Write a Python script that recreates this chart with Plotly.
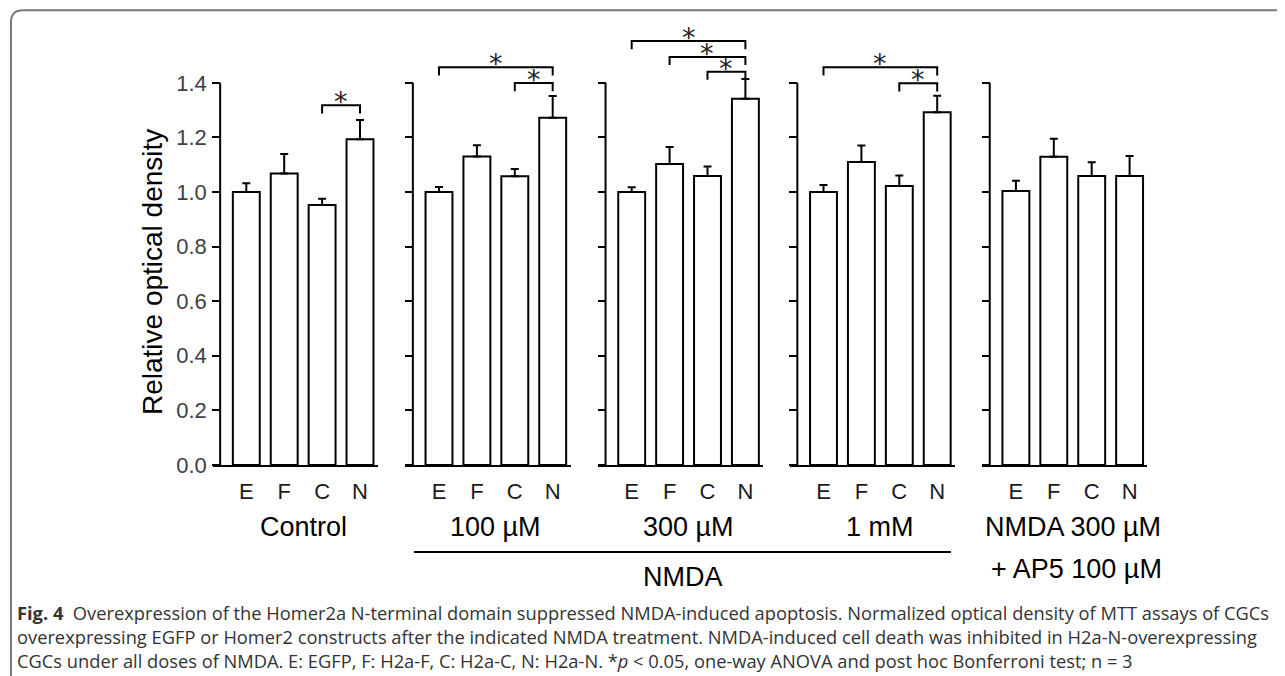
import plotly.graph_objects as go

# The page is photographed at 1285x676, but it is squeezed vertically by ~0.981
# (content area ~1285x689). The body also adds an 8px margin.
PAGE_W = 1285
SY = 676 / 689
OFF = 8
W, H = PAGE_W - 2 * OFF, 689 - 2 * OFF

# ---------------- data ----------------
categories = ["E", "F", "C", "N"]
group_labels = ["Control", "100 µM", "300 µM", "1 mM", "NMDA 300 µM<br>+ AP5 100 µM"]

control_mean = [1.000, 1.068, 0.952, 1.193]
control_err = [0.032, 0.071, 0.023, 0.071]
nmda100_mean = [1.000, 1.130, 1.058, 1.272]
nmda100_err = [0.018, 0.041, 0.026, 0.080]
nmda300_mean = [1.000, 1.103, 1.059, 1.342]
nmda300_err = [0.017, 0.062, 0.034, 0.072]
nmda1m_mean = [1.000, 1.110, 1.022, 1.292]
nmda1m_err = [0.026, 0.060, 0.038, 0.061]
ap5_mean = [1.004, 1.129, 1.059, 1.059]
ap5_err = [0.037, 0.066, 0.050, 0.073]

# significance brackets: (from index, to index, bracket height)
control_sig = [(2, 3, 1.318)]
nmda100_sig = [(0, 3, 1.457), (2, 3, 1.399)]
nmda300_sig = [(0, 3, 1.553), (1, 3, 1.495), (2, 3, 1.441)]
nmda1m_sig = [(0, 3, 1.457), (2, 3, 1.398)]
ap5_sig = []

y_ticks = [0.0, 0.2, 0.4, 0.6, 0.8, 1.0, 1.2, 1.4]

caption_bold = "Fig. 4"
caption_lines = [
    "Overexpression of the Homer2a N-terminal domain suppressed NMDA-induced apoptosis. Normalized optical density of MTT assays of CGCs",
    "overexpressing EGFP or Homer2 constructs after the indicated NMDA treatment. NMDA-induced cell death was inhibited in H2a-N-overexpressing",
    "CGCs under all doses of NMDA. E: EGFP, F: H2a-F, C: H2a-C, N: H2a-N. *<i>p</i> &lt; 0.05, one-way ANOVA and post hoc Bonferroni test; n = 3",
]

means = [control_mean, nmda100_mean, nmda300_mean, nmda1m_mean, ap5_mean]
errs = [control_err, nmda100_err, nmda300_err, nmda1m_err, ap5_err]
sigs = [control_sig, nmda100_sig, nmda300_sig, nmda1m_sig, ap5_sig]


# ---------------- layout geometry (target picture pixels) ----------------
def fx(x):
    return (x - OFF) / W


def fy(y):
    return 1 - (y / SY - OFF) / H


first_bar_center = [246.3, 439.0, 631.7, 823.5, 1015.9]
step = 37.9
x_lo, x_hi = -0.885, 3.47
yaxis_offset = -0.69
y0_px, y_top_px = 465.0, 82.7
px_per_unit = (y0_px - y_top_px) / 1.4
y_max = 1.62
y_dom_bottom = fy(y0_px)
y_dom_top = fy(y0_px - y_max * px_per_unit)

FONT = "Liberation Sans, Arial, sans-serif"

fig = go.Figure()
layout = dict(
    width=W, height=H,
    margin=dict(l=0, r=0, t=0, b=0),
    paper_bgcolor="white", plot_bgcolor="rgba(0,0,0,0)",
    showlegend=False,
    font=dict(family=FONT, color="black"),
)
shapes = []
annotations = []

for p in range(5):
    xn = "x" if p == 0 else f"x{p+1}"
    yn = "y" if p == 0 else f"y{p+1}"
    xk = "xaxis" if p == 0 else f"xaxis{p+1}"
    yk = "yaxis" if p == 0 else f"yaxis{p+1}"
    c0 = first_bar_center[p]
    d0 = fx(c0 + x_lo * step)
    d1 = fx(c0 + x_hi * step)
    ypos = fx(c0 + yaxis_offset * step)

    layout[xk] = dict(
        domain=[d0, d1], range=[x_lo, x_hi], anchor=yn,
        showline=True, linecolor="black", linewidth=2,
        showgrid=False, zeroline=False, ticks="",
        tickmode="array", tickvals=list(range(len(categories))), ticktext=categories,
        tickfont=dict(size=22, color="#1a1a1a", family=FONT),
        ticklabelstandoff=6, fixedrange=True,
    )
    layout[yk] = dict(
        domain=[y_dom_bottom, y_dom_top], range=[0, y_max],
        anchor="free", position=ypos,
        showline=False, showgrid=False, zeroline=False,
        ticks="outside", ticklen=8, tickwidth=2, tickcolor="black",
        tickmode="array", tickvals=y_ticks,
        ticktext=(["%.1f" % v for v in y_ticks] if p == 0 else [""] * len(y_ticks)),
        tickfont=dict(size=22, color="#404040", family=FONT),
        ticklabelstandoff=1, fixedrange=True,
    )

    fig.add_trace(go.Bar(
        x=list(range(len(categories))), y=means[p], xaxis=xn, yaxis=yn,
        width=0.71,
        marker=dict(color="white", line=dict(color="black", width=2)),
        error_y=dict(type="data", symmetric=False, array=errs[p],
                     arrayminus=[0] * len(errs[p]), color="black",
                     thickness=2, width=4),
        hoverinfo="skip",
    ))

    # vertical y axis line from 0 to the top tick
    shapes.append(dict(type="line", xref=xn, yref=yn,
                       x0=yaxis_offset, x1=yaxis_offset, y0=0, y1=max(y_ticks),
                       line=dict(color="black", width=2)))

    # significance brackets
    leg = 0.03
    for (a, b, h) in sigs[p]:
        fig.add_trace(go.Scatter(
            x=[a, a, b, b], y=[h - leg, h, h, h - leg], xaxis=xn, yaxis=yn,
            mode="lines", line=dict(color="black", width=2),
            hoverinfo="skip", cliponaxis=False,
        ))
        annotations.append(dict(
            x=(a + b) / 2, y=h, xref=xn, yref=yn, text="*",
            showarrow=False, yanchor="bottom", yshift=-14,
            font=dict(size=27, color="#222", family="DejaVu Sans, sans-serif"),
        ))

    # group label under each panel
    gl = group_labels[p]
    cx = fx(c0 + 1.5 * step)
    if p < 4:
        annotations.append(dict(
            x=cx, y=fy(527.5), xref="paper", yref="paper",
            text=gl, showarrow=False, xanchor="center", yanchor="middle",
            font=dict(size=27, color="black", family=FONT),
        ))
    else:
        top, bottom = gl.split("<br>")
        annotations.append(dict(
            x=cx, y=fy(527.5), xref="paper", yref="paper",
            text=top, showarrow=False, xanchor="center", yanchor="middle",
            font=dict(size=27, color="black", family=FONT),
        ))
        annotations.append(dict(
            x=fx(c0 + 1.6 * step), y=fy(569.5), xref="paper", yref="paper",
            text=bottom, showarrow=False, xanchor="center", yanchor="middle",
            font=dict(size=27, color="black", family=FONT),
        ))

# NMDA bracket line + label
shapes.append(dict(type="line", xref="paper", yref="paper",
                   x0=fx(414), x1=fx(951), y0=fy(552), y1=fy(552),
                   line=dict(color="black", width=2)))
annotations.append(dict(x=fx(682.5), y=fy(577), xref="paper", yref="paper",
                        text="NMDA", showarrow=False, xanchor="center", yanchor="middle",
                        font=dict(size=27, color="black", family=FONT)))

# y-axis title
annotations.append(dict(x=fx(152), y=fy(272), xref="paper", yref="paper",
                        text="Relative optical density", textangle=-90, showarrow=False,
                        xanchor="center", yanchor="middle",
                        font=dict(size=28, color="black", family=FONT)))

# frame (rounded top-left corner)
shapes.append(dict(
    type="path", xref="paper", yref="paper",
    path=(f"M {fx(11)} {fy(720)} L {fx(11)} {fy(22)} Q {fx(11)} {fy(10)} {fx(23)} {fy(10)} "
          f"L {fx(1290)} {fy(10)}"),
    line=dict(color="#7a7a7a", width=2),
))

# caption (one block of three lines)
CAPFONT = "Open Sans, Noto Sans, sans-serif"
caption_text = f"<b>{caption_bold}</b>  " + "<br>".join(caption_lines)
annotations.append(dict(x=fx(15), y=fy(637), xref="paper", yref="paper",
                        text=caption_text, showarrow=False, xanchor="left", yanchor="middle",
                        align="left",
                        font=dict(size=18.3, color="#333333", family=CAPFONT)))

layout["shapes"] = shapes
layout["annotations"] = annotations
fig.update_layout(**layout)
fig.write_html("out.html")
